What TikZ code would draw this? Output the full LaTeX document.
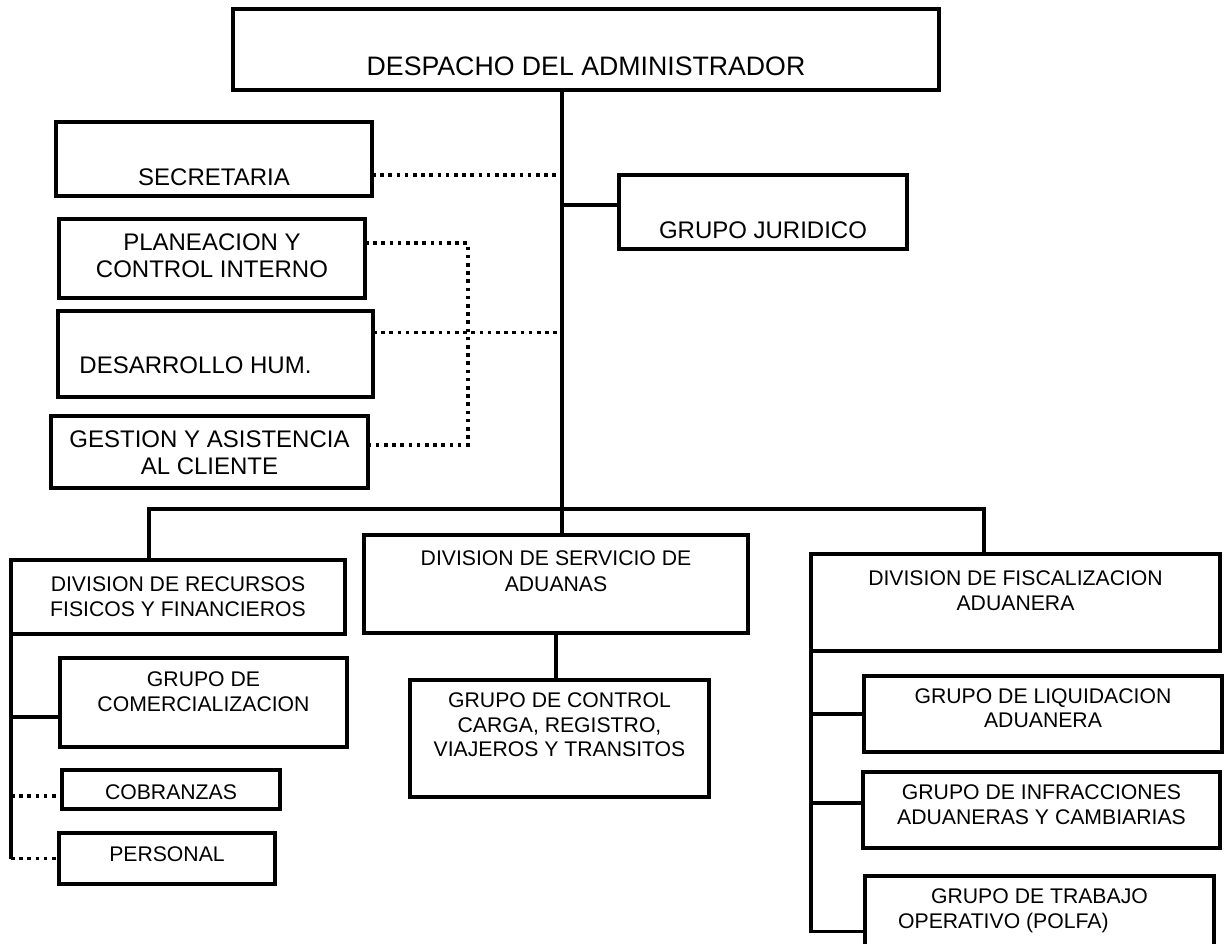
\documentclass[tikz,border=0pt]{standalone}
\usepackage{fontspec}
\setmainfont{Liberation Sans}
\usepackage{tikz}
\usetikzlibrary{positioning}

\newcommand{\bigtxt}{\fontsize{26.7}{30}\selectfont}
\newcommand{\midtxt}{\fontsize{24}{27}\selectfont}
\newcommand{\lowtxt}{\fontsize{21.2}{24.5}\selectfont}

\begin{document}
\begin{tikzpicture}[x=1pt,y=-1pt,
        unit/.style={draw, line width=3.2pt, rectangle, inner sep=0pt, outer sep=0pt,
                     anchor=north west, align=center},
        link/.style={line width=3.2pt},
        dots/.style={line width=3.6pt, dash pattern=on 3.6pt off 4.6pt}]
        \clip (0,0) rectangle (1224,943);

        \coordinate (trunk) at (562,0);
        \coordinate (bracket) at (468,0);
        \coordinate (bus) at (0,509);
        \coordinate (dropL) at (149,0);
        \coordinate (dropR) at (984,0);

        \node[unit, font=\bigtxt, minimum width=706pt, text height=66pt, text depth=15pt] (admin) at (233,9) {DESPACHO DEL ADMINISTRADOR};

        \node[unit, font=\midtxt, minimum width=316pt, text height=63pt, text depth=11pt] (secretaria) at (56,122) {SECRETARIA};
        \node[unit, font=\midtxt, minimum width=288pt, text height=63pt, text depth=11pt] (juridico) at (619,175) {GRUPO JURIDICO};
        \node[unit, font=\midtxt, minimum width=306pt, text height=58.7pt, text depth=20.3pt] (planeacion) at (59,219) {PLANEACION Y\\[0.7pt] CONTROL INTERNO};
        \node[unit, font=\midtxt, minimum width=315pt, text height=62pt, text depth=24pt] (desarrollo) at (58,311) {DESARROLLO HUM.\hspace{40pt}};
        \node[unit, font=\midtxt, minimum width=317pt, text height=58pt, text depth=14pt] (gestion) at (51,416) {GESTION Y ASISTENCIA\\ AL CLIENTE};

        \node[unit, font=\lowtxt, minimum width=334pt, text height=56pt, text depth=18pt] (recursos) at (11,560) {DIVISION DE RECURSOS\\ FISICOS Y FINANCIEROS};
        \node[unit, font=\lowtxt, minimum width=384pt, text height=56.7pt, text depth=41.3pt] (servicio) at (364,535) {DIVISION DE SERVICIO DE\\[2.2pt] ADUANAS};
        \node[unit, font=\lowtxt, minimum width=409pt, text height=56.7pt, text depth=40.3pt] (fiscalizacion) at (811,554) {DIVISION DE FISCALIZACION\\[0.5pt] ADUANERA};

        \node[unit, font=\lowtxt, minimum width=287pt, text height=53pt, text depth=36pt] (comercializacion) at (60,658) {GRUPO DE\\ COMERCIALIZACION};
        \node[unit, font=\lowtxt, minimum width=218pt, text height=29pt, text depth=10pt] (cobranzas) at (62,770) {COBRANZAS};
        \node[unit, font=\lowtxt, minimum width=216pt, text height=28.7pt, text depth=22.3pt] (personal) at (59,833) {PERSONAL};

        \node[unit, font=\lowtxt, minimum width=299pt, text height=76.7pt, text depth=40.3pt] (control) at (410,680) {GRUPO DE CONTROL\\ CARGA, REGISTRO,\\ VIAJEROS Y TRANSITOS};

        \node[unit, font=\lowtxt, minimum width=358pt, text height=51.7pt, text depth=24.3pt] (liquidacion) at (864,676) {GRUPO DE LIQUIDACION\\ ADUANERA};
        \node[unit, font=\lowtxt, minimum width=357pt, text height=52.3pt, text depth=23.7pt] (infracciones) at (863,772) {GRUPO DE INFRACCIONES\\[0.5pt] ADUANERAS Y CAMBIARIAS};
        \node[unit, font=\lowtxt, align=left, minimum width=349pt, text height=52.3pt, text depth=59.1pt] (trabajo) at (865,876) {\hspace*{33pt}GRUPO DE TRABAJO\hspace*{33pt}\\[0.5pt] OPERATIVO (POLFA)};

        \draw[link] (admin.south -| trunk) -- (servicio.north -| trunk);
        \draw[link] ([yshift=7pt]juridico.west -| trunk) -- ([yshift=7pt]juridico.west);
        \draw[dots] ([yshift=-16pt]secretaria.east) -- ([yshift=-16pt]secretaria.east -| trunk);
        \draw[dots] ([yshift=21.7pt]desarrollo.east) -- ([yshift=21.7pt]desarrollo.east -| trunk);
        \draw[dots] ([yshift=15.5pt]planeacion.east) -- ([yshift=15.5pt]planeacion.east -| bracket)
                 -- ([yshift=7pt]gestion.east -| bracket) -- ([yshift=7pt]gestion.east);

        \draw[link] (recursos.north -| dropL) -- (bus -| dropL) -- (bus -| dropR) -- (fiscalizacion.north -| dropR);
        \draw[link] (servicio.south) -- (servicio.south |- control.north);

        \draw[link] (recursos.south west) -- (recursos.south west |- personal.west);
        \draw[link] ([yshift=-14.5pt]comercializacion.west -| recursos.south west) -- ([yshift=-14.5pt]comercializacion.west);
        \draw[dots] ([yshift=-6.5pt]cobranzas.west -| recursos.south west) -- ([yshift=-6.5pt]cobranzas.west);
        \draw[dots] (personal.west -| recursos.south west) -- (personal.west);

        \draw[link] (fiscalizacion.south west) -- (fiscalizacion.south west |- trabajo.west) -- (trabajo.west);
        \foreach \g/\s in {liquidacion/0, infracciones/7}
        \draw[link] ([yshift=\s pt]\g.west -| fiscalizacion.south west) -- ([yshift=\s pt]\g.west);
\end{tikzpicture}
\end{document}
